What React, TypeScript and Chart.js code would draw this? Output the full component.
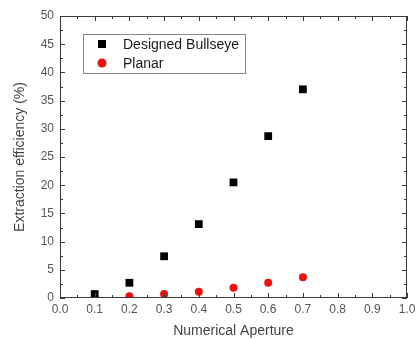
import React, { useEffect, useRef } from "react";
import { Chart, registerables } from "chart.js";

Chart.register(...registerables);

const numericalAperture = [0.1, 0.2, 0.3, 0.4, 0.5, 0.6, 0.7];
const bullseyeEfficiency = [0.7, 2.7, 7.4, 13.1, 20.5, 28.7, 37.0];
const planarEfficiency = [0.1, 0.3, 0.7, 1.1, 1.8, 2.7, 3.7];
const seriesLabels = ["Designed Bullseye", "Planar"];
const xTitle = "Numerical Aperture";
const yTitle = "Extraction efficiency (%)";

const FONT = "'Liberation Sans', Arial, sans-serif";

const framePlugin = {
  id: "frameTicks",
  afterDraw(chart: any) {
    const { ctx, chartArea } = chart;
    const { left, right, top, bottom } = chartArea;
    const xs = chart.scales.x;
    const ys = chart.scales.y;
    ctx.save();
    ctx.strokeStyle = "#3a3a3a";
    ctx.lineWidth = 1;
    ctx.strokeRect(left + 0.5, top + 0.5, right - left - 1, bottom - top - 1);
    ctx.beginPath();
    for (let i = 0; i <= 20; i++) {
      const v = i * 0.05;
      const px = Math.round(xs.getPixelForValue(v)) + 0.5;
      const len = i % 2 === 0 ? 5 : 3;
      ctx.moveTo(px, bottom);
      ctx.lineTo(px, bottom - len);
      ctx.moveTo(px, top);
      ctx.lineTo(px, top + len);
    }
    for (let i = 0; i <= 20; i++) {
      const v = i * 2.5;
      const py = Math.round(ys.getPixelForValue(v)) + 0.5;
      const len = i % 2 === 0 ? 5 : 3;
      ctx.moveTo(left, py);
      ctx.lineTo(left + len, py);
      ctx.moveTo(right, py);
      ctx.lineTo(right - len, py);
    }
    ctx.stroke();

    // legend
    const bx = 83, by = 34, bw = 162, bh = 39;
    ctx.strokeStyle = "#8a8a8a";
    ctx.strokeRect(bx + 0.5, by + 0.5, bw, bh);
    const ds = chart.data.datasets;
    const rows = [44, 63];
    ctx.font = `14px ${FONT}`;
    ctx.textBaseline = "middle";
    ctx.textAlign = "left";
    rows.forEach((ry, i) => {
      const d = ds[i];
      ctx.fillStyle = d.backgroundColor;
      if (d.pointStyle === "rect") {
        ctx.fillRect(102 - 4, ry - 4, 8, 8);
      } else {
        ctx.beginPath();
        ctx.arc(102, ry, 4.5, 0, Math.PI * 2);
        ctx.fill();
      }
      ctx.fillStyle = "#1a1a1a";
      ctx.fillText(d.label, 123, ry + 1);
    });
    ctx.restore();
  },
};

export default function App() {
  const ref = useRef<HTMLCanvasElement>(null);
  useEffect(() => {
    document.body.style.margin = "0";
    const chart = new Chart(ref.current!, {
      type: "scatter",
      data: {
        datasets: [
          {
            label: seriesLabels[0],
            data: numericalAperture.map((x, i) => ({ x, y: bullseyeEfficiency[i] })),
            backgroundColor: "#000000",
            borderColor: "#000000",
            pointStyle: "rect",
            pointRadius: 5.5,
            borderWidth: 0,
          },
          {
            label: seriesLabels[1],
            data: numericalAperture.map((x, i) => ({ x, y: planarEfficiency[i] })),
            backgroundColor: "#f01010",
            borderColor: "#f01010",
            pointStyle: "circle",
            pointRadius: 4,
            borderWidth: 0,
          },
        ],
      },
      options: {
        animation: false,
        responsive: false,
        maintainAspectRatio: false,
        layout: { padding: { left: 0, right: 9, top: 16, bottom: 0 } },
        plugins: { legend: { display: false }, tooltip: { enabled: false } },
        scales: {
          x: {
            type: "linear",
            min: 0,
            max: 1,
            grid: { display: false, drawTicks: false },
            border: { display: false },
            ticks: {
              stepSize: 0.1,
              padding: 4,
              color: "#555555",
              font: { family: FONT, size: 12 },
              callback: (v: any) => Number(v).toFixed(1),
              maxRotation: 0,
              autoSkip: false,
            },
            title: {
              display: true,
              text: xTitle,
              color: "#444444",
              font: { family: FONT, size: 14 },
              padding: { top: 0, bottom: 0 },
            },
            afterFit: (s: any) => {
              s.height = 42;
              s.paddingLeft = 0;
              s.paddingRight = 0;
            },
          } as any,
          y: {
            type: "linear",
            min: 0,
            max: 50,
            grid: { display: false, drawTicks: false },
            border: { display: false },
            ticks: {
              stepSize: 5,
              padding: 6,
              color: "#555555",
              font: { family: FONT, size: 12 },
            },
            title: {
              display: true,
              text: yTitle,
              color: "#444444",
              font: { family: FONT, size: 14 },
              padding: { top: 12, bottom: 0 },
            },
            afterFit: (s: any) => {
              s.width = 60;
              s.paddingTop = 0;
              s.paddingBottom = 0;
            },
          } as any,
        },
      },
      plugins: [framePlugin],
    });
    return () => chart.destroy();
  }, []);
  return (
    <div style={{ width: 416, height: 340, background: "#fff" }}>
      <canvas ref={ref} width={416} height={340} />
    </div>
  );
}
